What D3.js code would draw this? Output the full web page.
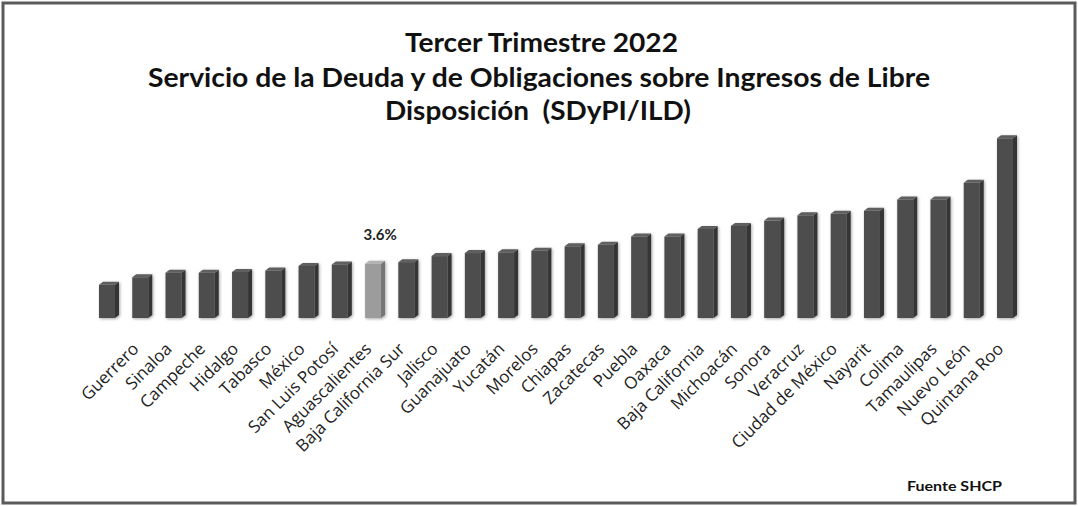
<!DOCTYPE html>
<html>
<head>
<meta charset="utf-8">
<script src="https://cdn.jsdelivr.net/npm/d3@7"></script>
<style>
  body { margin: 0; background: #fff; }
</style>
</head>
<body>
<div id="my_dataviz"></div>
<script>
// first bar has no category label in the original
var states = ["", "Guerrero", "Sinaloa", "Campeche", "Hidalgo", "Tabasco", "México",
    "San Luis Potosí", "Aguascalientes", "Baja California Sur", "Jalisco", "Guanajuato",
    "Yucatán", "Morelos", "Chiapas", "Zacatecas", "Puebla", "Oaxaca", "Baja California",
    "Michoacán", "Sonora", "Veracruz", "Ciudad de México", "Nayarit", "Colima",
    "Tamaulipas", "Nuevo León", "Quintana Roo"];

var values = [2.2, 2.7, 3.0, 3.0, 3.05, 3.15, 3.45, 3.55, 3.6, 3.7, 4.1, 4.3, 4.35, 4.45,
    4.75, 4.85, 5.4, 5.4, 5.9, 6.1, 6.45, 6.8, 6.9, 7.1, 7.85, 7.85, 8.95, 11.9];

var highlight = "Aguascalientes";

var titleLines = ["Tercer Trimestre 2022",
    "Servicio de la Deuda y de Obligaciones sobre Ingresos de Libre",
    "Disposición  (SDyPI/ILD)"];

var source = "Fuente SHCP";

function plot(){

    document.getElementById("my_dataviz").innerHTML = '';

    var width = 1078, height = 506;
    var baseY = 318;
    var front = 16, depth = 4, rise = 3;

    var svg = d3.select("#my_dataviz")
        .append("svg")
            .attr("width", width)
            .attr("height", height);

    svg.append("rect")
        .attr("x", 0).attr("y", 0)
        .attr("width", width).attr("height", height)
        .attr("fill", "#fff");

    // frame
    svg.append("rect")
        .attr("x", 3).attr("y", 3)
        .attr("width", width - 6).attr("height", height - 6)
        .attr("fill", "none")
        .attr("stroke", "#5b5b5b")
        .attr("stroke-width", 3);

    var defs = svg.append("defs");
    defs.append("filter")
        .attr("id", "shadow")
        .attr("x", "-50%").attr("y", "-20%")
        .attr("width", "200%").attr("height", "140%")
        .append("feDropShadow")
            .attr("dx", 1).attr("dy", 1)
            .attr("stdDeviation", 1.5)
            .attr("flood-color", "#000")
            .attr("flood-opacity", 0.35);

    // title
    var titleX = [405, 148, 385], titleLen = [273, 782, 306], titleY = [52, 87, 120];
    svg.selectAll("text.title")
        .data(titleLines)
        .enter()
            .append("text")
                .attr("class", "title")
                .attr("x", function(d, i) { return titleX[i]; })
                .attr("y", function(d, i) { return titleY[i]; })
                .attr("textLength", function(d, i) { return titleLen[i]; })
                .attr("lengthAdjust", "spacingAndGlyphs")
                .style("white-space", "pre")
                .style("font-family", "Lato, 'Open Sans', sans-serif")
                .style("font-weight", "bold")
                .style("font-size", "26px")
                .attr("fill", "#111")
                .text(function(d) { return d; });

    var xScale = d3.scalePoint()
        .domain(d3.range(states.length))
        .range([108, 1006]);

    var yScale = d3.scaleLinear()
        .domain([0, 12])
        .range([baseY, baseY - 12 * 15.1]);

    // category labels
    var xAxis = svg.append("g")
        .attr("transform", "translate(0," + baseY + ")")
        .call(d3.axisBottom(xScale).tickSize(0).tickFormat(function(i) { return states[i]; }));
    xAxis.select(".domain").remove();
    xAxis.selectAll("text")
        .attr("x", 0).attr("y", 0).attr("dy", 0)
        .attr("text-anchor", "end")
        .attr("transform", "translate(-2,32) rotate(-45)")
        .style("font-family", "'Open Sans', sans-serif")
        .style("font-size", "17px")
        .attr("fill", "#222");

    // 3d bars
    var bars = svg.selectAll("g.bar")
        .data(values)
        .enter()
            .append("g")
                .attr("class", "bar")
                .attr("filter", "url(#shadow)");

    var isHi = function(d, i) { return states[i] === highlight; };

    bars.append("rect")
        .attr("x", function(d, i) { return xScale(i) - 9; })
        .attr("y", function(d) { return yScale(d); })
        .attr("width", front)
        .attr("height", function(d) { return baseY - yScale(d); })
        .attr("fill", function(d, i) { return isHi(d, i) ? "#9c9c9c" : "#4e4e4e"; });

    bars.append("path")
        .attr("d", function(d, i) {
            var l = xScale(i) - 9 + front, t = yScale(d);
            return "M" + l + "," + t + "L" + (l + depth) + "," + (t - rise) +
                "L" + (l + depth) + "," + (baseY - rise) + "L" + l + "," + baseY + "Z";
        })
        .attr("fill", function(d, i) { return isHi(d, i) ? "#767676" : "#353535"; });

    bars.append("path")
        .attr("d", function(d, i) {
            var l = xScale(i) - 9, t = yScale(d);
            return "M" + l + "," + t + "L" + (l + depth) + "," + (t - rise) +
                "L" + (l + front + depth) + "," + (t - rise) + "L" + (l + front) + "," + t + "Z";
        })
        .attr("fill", function(d, i) { return isHi(d, i) ? "#b3b3b3" : "#5e5e5e"; });

    // value label for the highlighted state
    var hi = states.indexOf(highlight);
    svg.append("text")
        .attr("x", xScale(hi) + 6)
        .attr("y", 240)
        .attr("text-anchor", "middle")
        .style("font-family", "Lato, 'Open Sans', sans-serif")
        .style("font-weight", "bold")
        .style("font-size", "15px")
        .attr("fill", "#222")
        .text(d3.format(".1f")(values[hi]) + "%");

    svg.append("text")
        .attr("x", 907)
        .attr("y", 491)
        .attr("textLength", 95)
        .attr("lengthAdjust", "spacingAndGlyphs")
        .style("font-family", "Lato, 'Open Sans', sans-serif")
        .style("font-weight", "bold")
        .style("font-size", "13px")
        .attr("fill", "#111")
        .text(source);
}

window.addEventListener("load", plot);
</script>
</body>
</html>
